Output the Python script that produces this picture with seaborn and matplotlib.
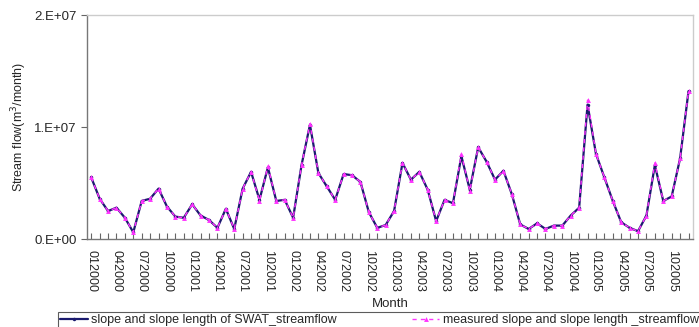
import numpy as np
import pandas as pd
import matplotlib
matplotlib.use("Agg")
import matplotlib.pyplot as plt
import seaborn as sns

months = [f"{m:02d}{y}" for y in range(2000, 2006) for m in range(1, 13)]

swat = [5.5, 3.6, 2.5, 2.8, 1.9, 0.6, 3.4, 3.6, 4.5, 2.9, 2.0, 1.9,
        3.1, 2.1, 1.7, 1.0, 2.7, 0.9, 4.5, 6.0, 3.5, 6.4, 3.4, 3.5,
        1.9, 6.6, 10.2, 5.9, 4.7, 3.5, 5.8, 5.7, 5.1, 2.4, 1.0, 1.25,
        2.5, 6.8, 5.3, 6.0, 4.4, 1.6, 3.5, 3.2, 7.4, 4.4, 8.2, 6.9,
        5.3, 6.1, 4.0, 1.3, 0.9, 1.4, 0.9, 1.2, 1.2, 2.1, 2.8, 12.0,
        7.6, 5.5, 3.4, 1.5, 1.0, 0.7, 2.1, 6.6, 3.4, 3.8, 7.2, 13.2]

measured = [5.5, 3.6, 2.5, 2.8, 1.9, 0.6, 3.4, 3.6, 4.5, 2.9, 2.0, 1.9,
            3.1, 2.1, 1.7, 1.0, 2.7, 0.9, 4.5, 6.0, 3.4, 6.5, 3.4, 3.5,
            1.9, 6.6, 10.3, 5.9, 4.7, 3.5, 5.8, 5.7, 5.1, 2.4, 1.0, 1.25,
            2.5, 6.8, 5.3, 6.0, 4.4, 1.6, 3.5, 3.2, 7.6, 4.3, 8.2, 6.9,
            5.3, 6.1, 4.0, 1.3, 0.9, 1.4, 0.9, 1.2, 1.2, 2.1, 2.8, 12.4,
            7.6, 5.5, 3.4, 1.5, 1.0, 0.7, 2.1, 6.8, 3.4, 3.8, 7.2, 13.2]

swat_label = "slope and slope length of SWAT_streamflow"
meas_label = "measured slope and slope length _streamflow"
ytick_vals = [0, 1e7, 2e7]
ytick_labels = ["0.E+00", "1.E+07", "2.E+07"]

sns.set_style("white")
plt.rcParams['font.family'] = ['Liberation Sans', 'DejaVu Sans']

df = pd.DataFrame({
    "idx": np.arange(len(months)),
    "swat": np.array(swat) * 1e6,
    "measured": np.array(measured) * 1e6,
})

fig = plt.figure(figsize=(6.99, 3.27), dpi=100)
ax = fig.add_axes([0.1245, 0.269, 0.8665, 0.685])

sns.lineplot(data=df, x="idx", y="swat", ax=ax, color="#1a1a6e", lw=1.6,
             marker="o", markersize=2.5, markeredgewidth=0, label=swat_label)
sns.lineplot(data=df, x="idx", y="measured", ax=ax, color="#ff33ff", lw=1.0,
             linestyle=(0, (3, 3)), marker="^", markersize=3.5,
             markeredgewidth=0, label=meas_label)

ax.set_xlim(-0.5, len(months) - 0.5)
ax.set_ylim(0, 2e7)
ax.set_xticks(range(0, len(months), 3))
ax.set_xticklabels(months[::3], rotation=-90, fontsize=9)
ax.set_xticks(np.arange(len(months)), minor=True)
ax.tick_params(axis='x', which='both', direction='in', length=4, width=0.8,
               color='#666666', bottom=True, pad=8)
ax.set_yticks(ytick_vals)
ax.set_yticklabels(ytick_labels, fontsize=9.5)
ax.tick_params(axis='y', direction='out', length=4, width=0.8,
               color='#666666', left=True)

ax.set_xlabel("Month", fontsize=9.5, labelpad=4)
ax.set_ylabel("Stream flow(m$^3$/month)", fontsize=9)

for s in ['left', 'bottom']:
    ax.spines[s].set_color('#777777')
    ax.spines[s].set_linewidth(1.0)
for s in ['top', 'right']:
    ax.spines[s].set_color('#cccccc')
    ax.spines[s].set_linewidth(1.0)

leg = ax.legend(loc='upper center', bbox_to_anchor=(0.483, -0.325),
                ncol=2, fontsize=9, frameon=True, fancybox=False,
                edgecolor='#333333', borderpad=0.2, handlelength=2.2,
                columnspacing=6.0, handletextpad=0.3, borderaxespad=0)
leg.get_frame().set_linewidth(0.8)

fig.savefig("out.png", dpi=100, facecolor='white')
